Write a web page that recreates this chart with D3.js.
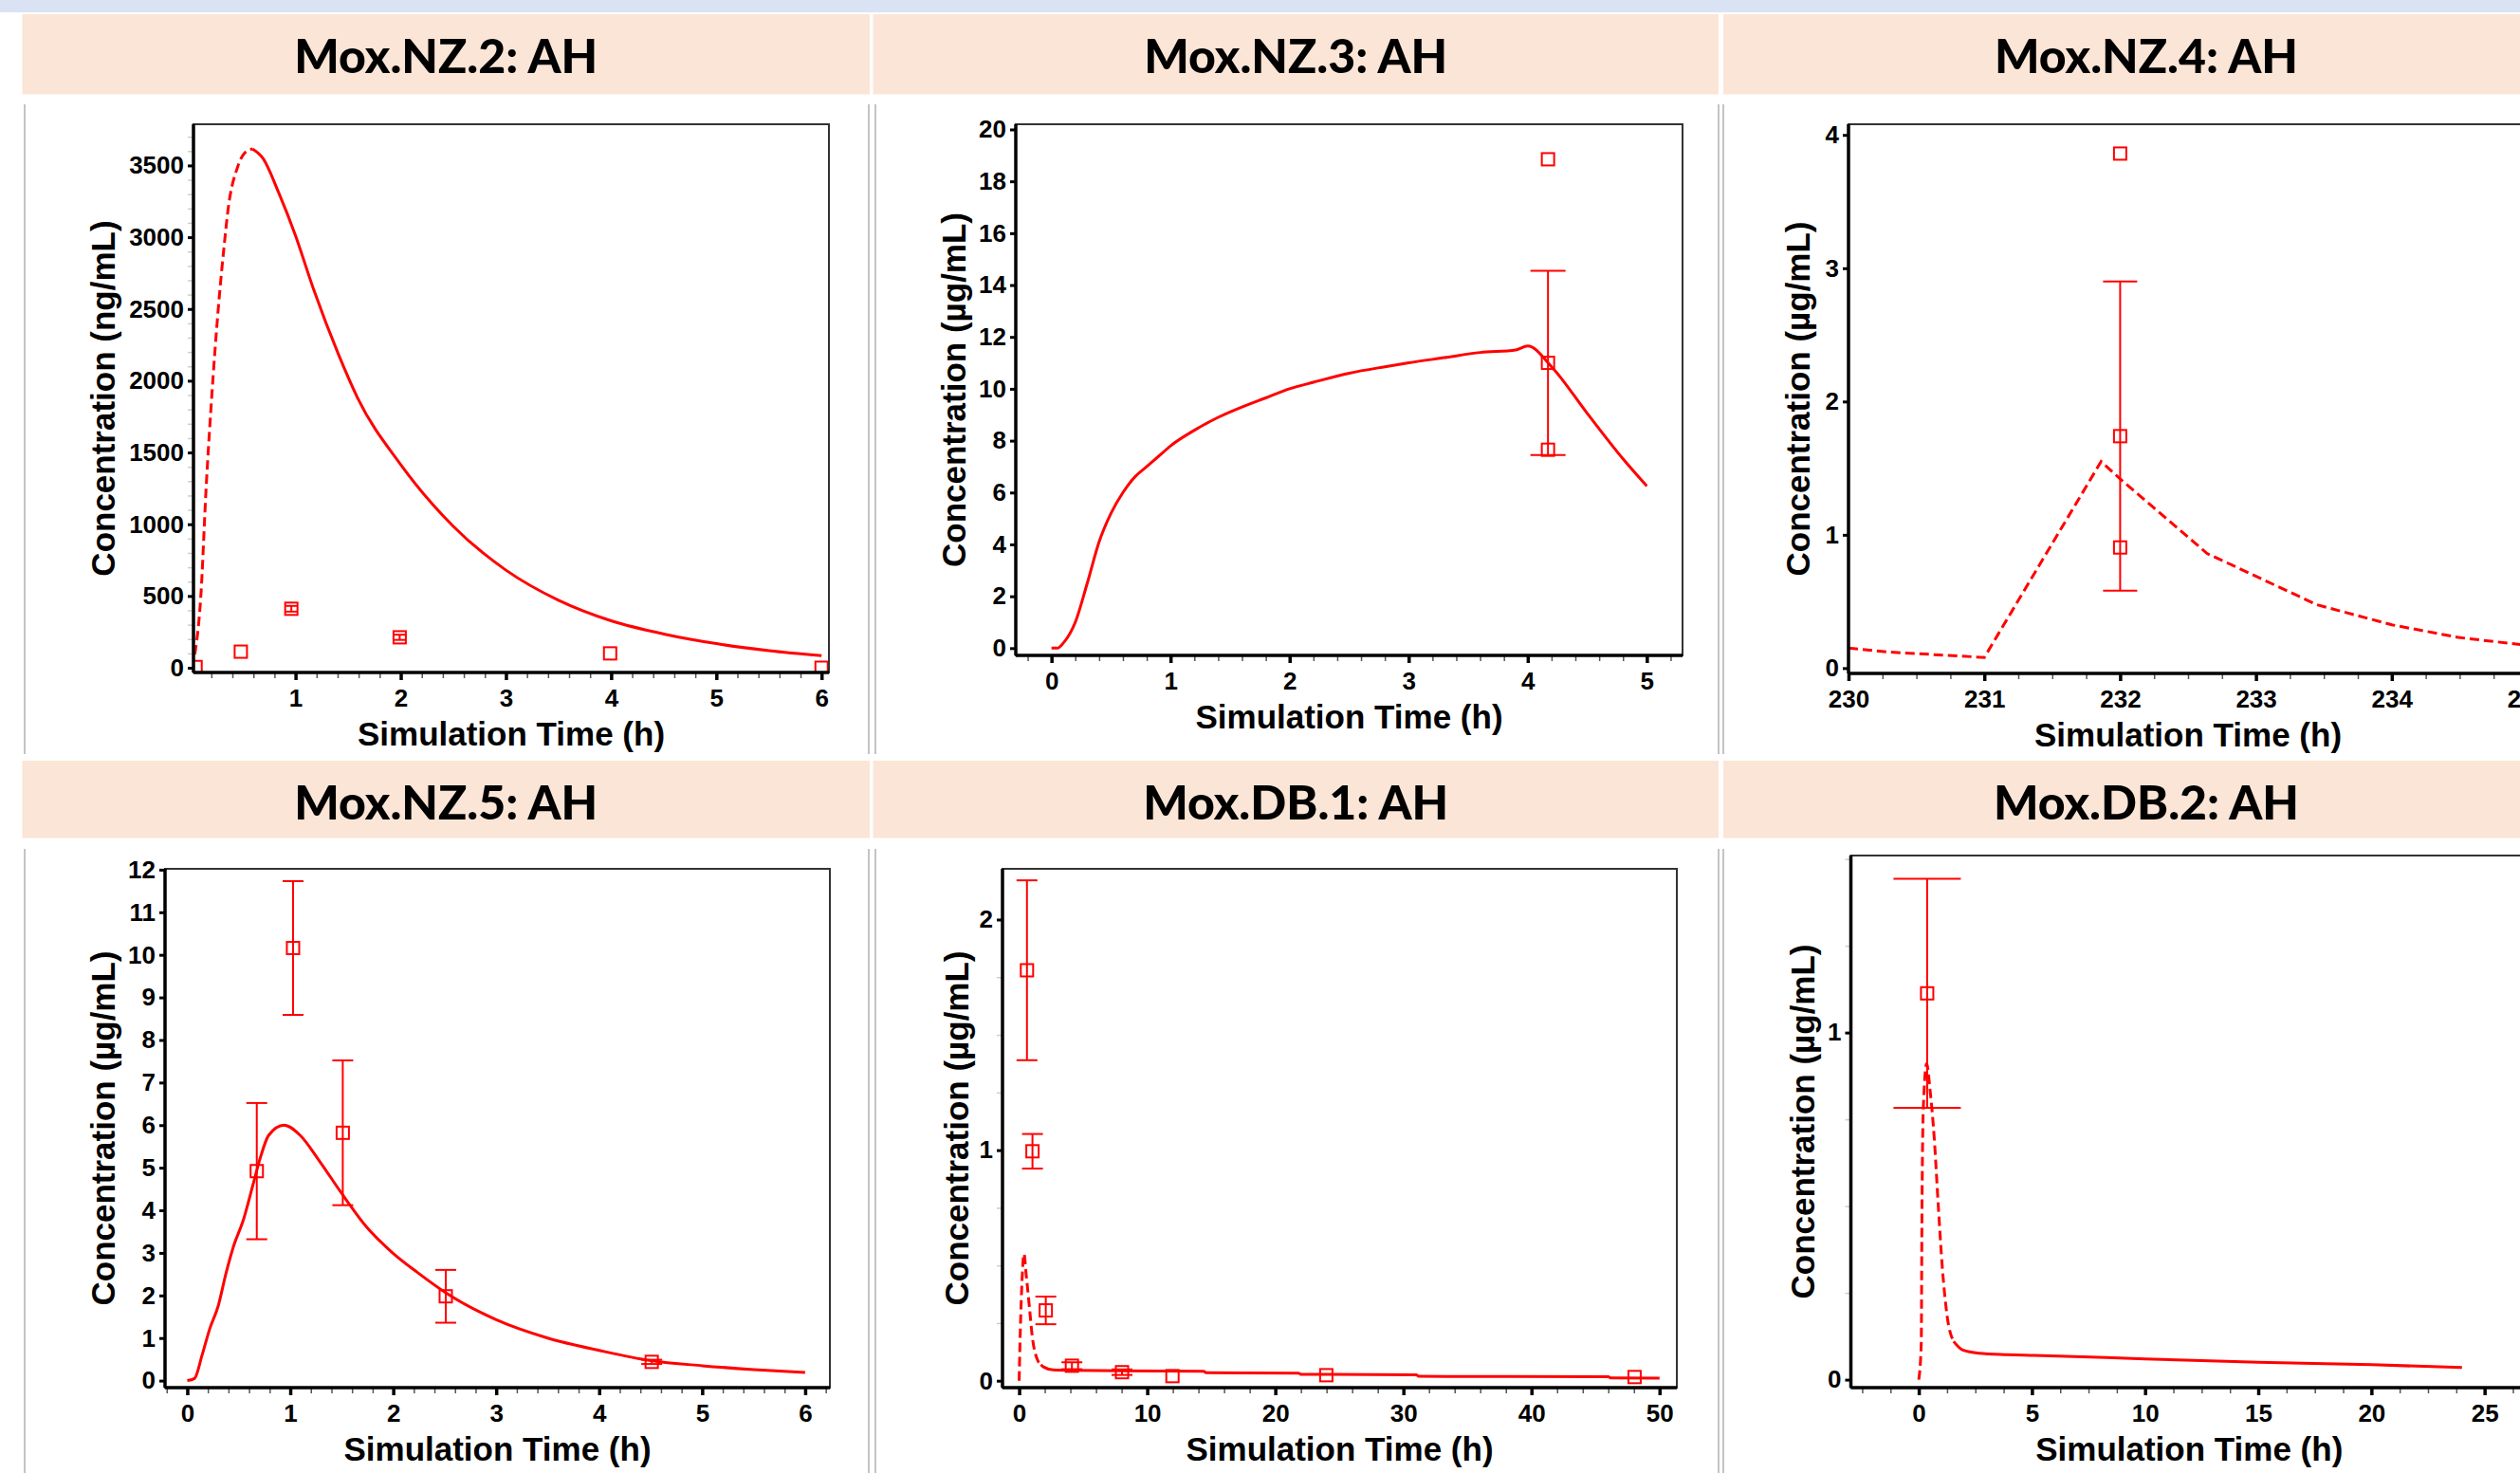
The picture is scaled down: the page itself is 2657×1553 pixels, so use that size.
<!DOCTYPE html>
<html>
<head>
<meta charset="utf-8">
<script src="https://cdn.jsdelivr.net/npm/d3@7"></script>
<style>
  body { margin: 0; background: #fff; }
  svg { display: block; overflow: hidden; }
  .tick text { font-family: "Liberation Sans", Arial, sans-serif; font-weight: bold; font-size: 26px; fill: #000; }
  .axis-title { font-family: "Liberation Sans", Arial, sans-serif; font-weight: bold; font-size: 35px; fill: #000; }
  .panel-title { font-family: Lato, "Open Sans", sans-serif; font-weight: 900; font-size: 50px; fill: #000; }
</style>
</head>
<body>
<div id="chart"></div>
<script>
// Mox.NZ.2 : simulated curve + observed
const nz2Time = [0, 0.05, 0.1, 0.15, 0.2, 0.27, 0.32, 0.36, 0.45, 0.52, 0.59, 0.69, 0.84, 1.0, 1.17, 1.41, 1.59, 2.0, 2.5, 3.0, 3.5, 4.0, 4.5, 5.0, 5.5, 6.0];
const nz2Conc = [0, 130, 500, 1250, 1850, 2540, 2930, 3200, 3490, 3590, 3615, 3550, 3310, 3010, 2640, 2180, 1880, 1415, 985, 680, 470, 327, 235, 168, 119, 84];
const nz2ObsTime = [0.05, 0.48, 0.96, 1.99, 3.99, 6.0];
const nz2ObsConc = [5, 112, 411, 212, 100, 0];
const nz2ObsErr  = [0, 0, 20, 18, 0, 0];
const nz2XTicks = [1, 2, 3, 4, 5, 6];
const nz2YTicks = [0, 500, 1000, 1500, 2000, 2500, 3000, 3500];

// Mox.NZ.3
const nz3Time = [0, 0.05, 0.1, 0.2, 0.3, 0.4, 0.5, 0.6, 0.7, 0.8, 0.9, 1.0, 1.2, 1.4, 1.6, 1.8, 2.0, 2.2, 2.5, 2.8, 3.0, 3.3, 3.6, 3.9, 4.0, 4.2, 4.5, 4.8, 5.0];
const nz3Conc = [0, 0, 0.2, 1.0, 2.5, 4.1, 5.2, 6.0, 6.6, 7.0, 7.4, 7.8, 8.4, 8.9, 9.3, 9.65, 10.0, 10.25, 10.6, 10.85, 11.0, 11.2, 11.4, 11.5, 11.65, 10.85, 9.05, 7.3, 6.25];
const nz3ObsTime = [4.17, 4.17, 4.17];
const nz3ObsConc = [18.85, 11.0, 7.65];
const nz3ObsErr  = [0, 3.55, 0];
const nz3XTicks = [0, 1, 2, 3, 4, 5];
const nz3YTicks = [0, 2, 4, 6, 8, 10, 12, 14, 16, 18, 20];

// Mox.NZ.4
const nz4Time = [230, 230.3, 231, 231.86, 232, 232.64, 233.45, 234, 234.49, 235];
const nz4Conc = [0.15, 0.12, 0.08, 1.55, 1.42, 0.86, 0.475, 0.325, 0.23, 0.17];
const nz4ObsTime = [232, 232, 232];
const nz4ObsConc = [3.86, 1.74, 0.905];
const nz4ObsErr  = [0, 1.16, 0];
const nz4XTicks = [230, 231, 232, 233, 234, 235];
const nz4YTicks = [0, 1, 2, 3, 4];

// Mox.NZ.5
const nz5Time = [0, 0.07, 0.144, 0.22, 0.3, 0.374, 0.45, 0.543, 0.635, 0.71, 0.79, 0.94, 1.096, 1.28, 1.49, 1.74, 1.985, 2.23, 2.5, 3.0, 3.5, 4.0, 4.5, 5.0, 5.5, 6.0];
const nz5Conc = [0, 0.05, 0.6, 1.23, 1.75, 2.5, 3.16, 3.76, 4.57, 5.24, 5.76, 6.0, 5.76, 5.17, 4.43, 3.61, 3.02, 2.55, 2.08, 1.43, 1.0, 0.71, 0.47, 0.35, 0.26, 0.19];
const nz5ObsTime = [0.675, 1.027, 1.51, 2.51, 4.51];
const nz5ObsConc = [4.92, 10.16, 5.82, 1.98, 0.44];
const nz5ObsErr  = [1.6, 1.57, 1.7, 0.62, 0.05];
const nz5XTicks = [0, 1, 2, 3, 4, 5, 6];
const nz5YTicks = [0, 1, 2, 3, 4, 5, 6, 7, 8, 9, 10, 11, 12];

// Mox.DB.1
const db1Time = [0, 0.06, 0.2, 0.38, 0.55, 0.8, 1.04, 1.41, 1.7, 1.9, 2.65, 4, 8, 14.4, 14.6, 21.8, 22, 31, 31.2, 46, 46.2, 50];
const db1Conc = [0, 0.15, 0.4, 0.55, 0.46, 0.32, 0.185, 0.093, 0.07, 0.06, 0.047, 0.045, 0.043, 0.041, 0.035, 0.033, 0.028, 0.026, 0.019, 0.017, 0.012, 0.011];
const db1ObsTime = [0.61, 1.04, 2.08, 4.12, 8.03, 11.97, 23.98, 48.05];
const db1ObsConc = [1.78, 0.995, 0.305, 0.065, 0.037, 0.02, 0.024, 0.016];
const db1ObsErr  = [0.39, 0.075, 0.06, 0.015, 0.012, 0, 0, 0];
const db1XTicks = [0, 10, 20, 30, 40, 50];
const db1YTicks = [0, 1, 2];

// Mox.DB.2
const db2Time = [0, 0.11, 0.14, 0.2, 0.35, 0.49, 0.7, 0.84, 1.05, 1.26, 1.54, 1.95, 2.65, 3.9, 5.1, 10, 15, 20, 24];
const db2Conc = [0, 0.105, 0.47, 0.78, 0.91, 0.84, 0.68, 0.525, 0.315, 0.18, 0.11, 0.085, 0.076, 0.072, 0.07, 0.06, 0.05, 0.043, 0.035];
const db2ObsTime = [0.37];
const db2ObsConc = [1.113];
const db2ObsErr  = [0.33];
const db2XTicks = [0, 5, 10, 15, 20, 25];
const db2YTicks = [0, 1];

const W = 2657, H = 1553;
const red = "#ff0000";

// layout: frame box [x0, y0, x1, y1], header box, y-title x
const panels = [
  { title: "Mox.NZ.2: AH", unit: "ng/mL", t: nz2Time, c: nz2Conc, dashEnd: 0.62, smooth: true,
    oT: nz2ObsTime, oC: nz2ObsConc, oE: nz2ObsErr, xTicks: nz2XTicks, yTicks: nz2YTicks,
    xMinor: 0.2, yMinor: 100, xDom: [0.03, 6.07], yDom: [-33, 3787],
    box: [204, 131, 874, 709], head: [23.5, 15, 917, 99.5], yTitleX: 108, cap: 12 },
  { title: "Mox.NZ.3: AH", unit: "µg/mL", t: nz3Time, c: nz3Conc, dashEnd: -1, smooth: true,
    oT: nz3ObsTime, oC: nz3ObsConc, oE: nz3ObsErr, xTicks: nz3XTicks, yTicks: nz3YTicks,
    xMinor: 0.2, yMinor: null, xDom: [-0.3, 5.3], yDom: [-0.28, 20.2],
    box: [1071, 131, 1774, 691], head: [920.5, 15, 1812, 99.5], yTitleX: 1005, cap: 37 },
  { title: "Mox.NZ.4: AH", unit: "µg/mL", t: nz4Time, c: nz4Conc, dashEnd: 999, smooth: false,
    oT: nz4ObsTime, oC: nz4ObsConc, oE: nz4ObsErr, xTicks: nz4XTicks, yTicks: nz4YTicks,
    xMinor: 0.25, yMinor: null, xDom: [230, 235], yDom: [-0.04, 4.08],
    box: [1949, 131, 2665, 710], head: [1817, 15, 2709, 99.5], yTitleX: 1895, cap: 36 },
  { title: "Mox.NZ.5: AH", unit: "µg/mL", t: nz5Time, c: nz5Conc, dashEnd: -1, smooth: true,
    oT: nz5ObsTime, oC: nz5ObsConc, oE: nz5ObsErr, xTicks: nz5XTicks, yTicks: nz5YTicks,
    xMinor: 0.2, yMinor: null, xDom: [-0.216, 6.24], yDom: [-0.165, 12.02],
    box: [174, 916, 875, 1463], head: [23.5, 802, 917, 883.5], yTitleX: 108, cap: 22 },
  { title: "Mox.DB.1: AH", unit: "µg/mL", t: db1Time, c: db1Conc, dashEnd: 1.7, smooth: true,
    oT: db1ObsTime, oC: db1ObsConc, oE: db1ObsErr, xTicks: db1XTicks, yTicks: db1YTicks,
    xMinor: 2, yMinor: 0.25, xDom: [-1.3, 51.35], yDom: [-0.03, 2.22],
    box: [1057, 916, 1768, 1463], head: [920.5, 802, 1812, 883.5], yTitleX: 1008, cap: 22 },
  { title: "Mox.DB.2: AH", unit: "µg/mL", t: db2Time, c: db2Conc, dashEnd: 1.6, smooth: true,
    oT: db2ObsTime, oC: db2ObsConc, oE: db2ObsErr, xTicks: db2XTicks, yTicks: db2YTicks,
    xMinor: 1.25, yMinor: 0.25, xDom: [-3, 26.9], yDom: [-0.023, 1.51],
    box: [1951.5, 902, 2665, 1463], head: [1817, 802, 2709, 883.5], yTitleX: 1900, cap: 71 }
];

const svg = d3.select("#chart").append("svg")
  .attr("width", W).attr("height", H);

svg.append("rect").attr("width", W).attr("height", H).attr("fill", "#fff");
// top strip
svg.append("rect").attr("x", 0).attr("y", 0).attr("width", W).attr("height", 13).attr("fill", "#dae3f3");

// panel separators
[[110, 795], [895, H]].forEach(([ya, yb]) => {
  [26, 916, 923, 1812, 1817].forEach(x => {
    svg.append("line").attr("x1", x).attr("x2", x).attr("y1", ya).attr("y2", yb)
      .attr("stroke", "#c4c4c4").attr("stroke-width", 2);
  });
});

panels.forEach((p, i) => {
  const [x0, y0, x1, y1] = p.box;
  const [hx0, hy0, hx1, hy1] = p.head;

  // header
  svg.append("rect").attr("x", hx0).attr("y", hy0).attr("width", hx1 - hx0).attr("height", hy1 - hy0)
    .attr("fill", "#fbe5d6");
  svg.append("text").attr("class", "panel-title")
    .attr("x", (hx0 + hx1) / 2).attr("y", hy0 + 62)
    .attr("text-anchor", "middle").text(p.title);

  const x = d3.scaleLinear().domain(p.xDom).range([x0, x1]);
  const y = d3.scaleLinear().domain(p.yDom).range([y1, y0]);

  const g = svg.append("g");

  // clip to frame
  const clipId = "clip" + i;
  g.append("clipPath").attr("id", clipId).append("rect")
    .attr("x", x0).attr("y", y0).attr("width", x1 - x0).attr("height", y1 - y0);
  const plot = g.append("g").attr("clip-path", `url(#${clipId})`);

  // simulated curve: dashed part up to dashEnd, solid after
  const pts = p.t.map((t, k) => [t, p.c[k]]);
  const dashPts = pts.filter(d => d[0] <= p.dashEnd);
  const solidPts = pts.filter(d => d[0] >= p.dashEnd);
  if (dashPts.length && dashPts.length < pts.length) solidPts.unshift(dashPts[dashPts.length - 1]);
  const line = d3.line().x(d => x(d[0])).y(d => y(d[1]))
    .curve(p.smooth ? d3.curveMonotoneX : d3.curveLinear);
  if (dashPts.length > 1) {
    plot.append("path").attr("d", line(dashPts)).attr("fill", "none")
      .attr("stroke", red).attr("stroke-width", 3).attr("stroke-dasharray", "10,5");
  }
  if (solidPts.length > 1) {
    plot.append("path").attr("d", line(solidPts)).attr("fill", "none")
      .attr("stroke", red).attr("stroke-width", 3);
  }

  // observations with error bars
  p.oT.forEach((t, k) => {
    const cx = x(t), cy = y(p.oC[k]), e = p.oE[k];
    if (e > 0) {
      const ya = y(p.oC[k] + e), yb = y(p.oC[k] - e);
      plot.append("line").attr("x1", cx).attr("x2", cx).attr("y1", ya).attr("y2", yb)
        .attr("stroke", red).attr("stroke-width", 2);
      [ya, yb].forEach(yy => plot.append("line")
        .attr("x1", cx - p.cap / 2).attr("x2", cx + p.cap / 2).attr("y1", yy).attr("y2", yy)
        .attr("stroke", red).attr("stroke-width", 2));
    }
    plot.append("rect").attr("x", cx - 6.5).attr("y", cy - 6.5).attr("width", 13).attr("height", 13)
      .attr("fill", "none").attr("stroke", red).attr("stroke-width", 2);
  });

  // frame
  g.append("rect").attr("x", x0).attr("y", y0).attr("width", x1 - x0).attr("height", y1 - y0)
    .attr("fill", "none").attr("stroke", "#333").attr("stroke-width", 2);

  // minor x ticks
  const xm = d3.range(Math.ceil(p.xDom[0] / p.xMinor) * p.xMinor, p.xDom[1], p.xMinor);
  g.append("g").attr("transform", `translate(0,${y1})`)
    .call(d3.axisBottom(x).tickValues(xm).tickSize(6).tickFormat(""))
    .call(a => a.select(".domain").remove())
    .call(a => a.selectAll("line").attr("stroke", "#555").attr("stroke-width", 1.5));

  if (p.yMinor) {
    const ym = d3.range(Math.ceil(p.yDom[0] / p.yMinor) * p.yMinor, p.yDom[1], p.yMinor);
    g.append("g").attr("transform", `translate(${x0},0)`)
      .call(d3.axisLeft(y).tickValues(ym).tickSize(6).tickFormat(""))
      .call(a => a.select(".domain").remove())
      .call(a => a.selectAll("line").attr("stroke", "#ccc").attr("stroke-width", 1.5));
  }

  // major axes
  g.append("g").attr("transform", `translate(0,${y1})`)
    .call(d3.axisBottom(x).tickValues(p.xTicks).tickSize(8).tickPadding(10).tickFormat(d3.format("d")))
    .call(a => a.select(".domain").remove())
    .call(a => a.selectAll("line").attr("stroke", "#000").attr("stroke-width", 3.5));

  g.append("g").attr("transform", `translate(${x0},0)`)
    .call(d3.axisLeft(y).tickValues(p.yTicks).tickSize(6).tickPadding(4).tickFormat(d3.format("d")))
    .call(a => a.select(".domain").remove())
    .call(a => a.selectAll("line").attr("stroke", "#000").attr("stroke-width", 3));

  // thick left and bottom axis lines
  g.append("line").attr("x1", x0).attr("x2", x1).attr("y1", y1).attr("y2", y1)
    .attr("stroke", "#000").attr("stroke-width", 3.5);
  g.append("line").attr("x1", x0).attr("x2", x0).attr("y1", y0).attr("y2", y1)
    .attr("stroke", "#000").attr("stroke-width", 3.5);

  // axis titles
  g.append("text").attr("class", "axis-title")
    .attr("x", (x0 + x1) / 2).attr("y", y1 + 77)
    .attr("text-anchor", "middle").text("Simulation Time (h)");
  g.append("text").attr("class", "axis-title")
    .attr("transform", `translate(${p.yTitleX},${(y0 + y1) / 2}) rotate(-90)`)
    .attr("text-anchor", "middle").attr("dominant-baseline", "central")
    .text(`Concentration (${p.unit})`);
});
</script>
</body>
</html>
